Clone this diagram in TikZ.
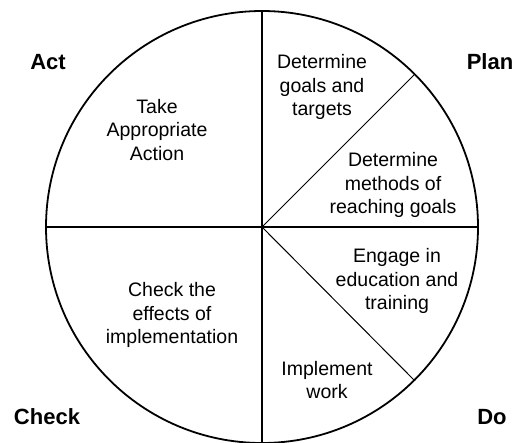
\documentclass[tikz,border=0pt]{standalone}
\usepackage{fontspec}
\setmainfont{Liberation Sans}
\usetikzlibrary{calc}
\begin{document}
\begin{tikzpicture}[x=1pt,y=-1pt,
  wheel/.style={line width=1.8pt},
  divider/.style={line width=1.3pt},
  slant/.style={line width=1pt},
  stage/.style={font=\fontsize{22}{24}\selectfont\bfseries, inner sep=0pt},
  task/.style={font=\fontsize{19.5}{23.5}\selectfont, align=center, inner sep=0pt}]
\useasboundingbox (0,0) rectangle (518,442);
\clip (0,0) rectangle (518,442);
\coordinate (c) at (262,227);
\coordinate (top) at (262,11);
\coordinate (bot) at (262,443);
\coordinate (lft) at (46,227);
\coordinate (rgt) at (478,227);
\coordinate (ur) at ($(c)+(152,-152)$);
\coordinate (lr) at ($(c)+(152,153)$);
\draw[wheel] (c) circle[radius=216];
\draw[divider] (top) -- (bot);
\draw[divider] (lft) -- (rgt);
\draw[slant] (c) -- (ur);
\draw[slant] (c) -- (lr);
\node[stage] (act) at (48,62) {Act};
\node[stage] (plan) at (490,62) {Plan};
\node[stage] (check) at (47,417) {Check};
\node[stage] (do) at (492,417) {Do};
\node[task] (take) at (157,130) {Take\\Appropriate\\Action};
\node[task] (goals) at (322,87) {Determine\\goals and\\targets};
\node[task] (methods) at (393,185) {Determine\\methods of\\reaching goals};
\node[task] (engage) at (397,281) {Engage in\\education and\\training};
\node[task] (impl) at (327,380) {Implement\\work};
\node[task] (checkfx) at (172,315) {Check the\\effects of\\implementation};
\end{tikzpicture}
\end{document}
